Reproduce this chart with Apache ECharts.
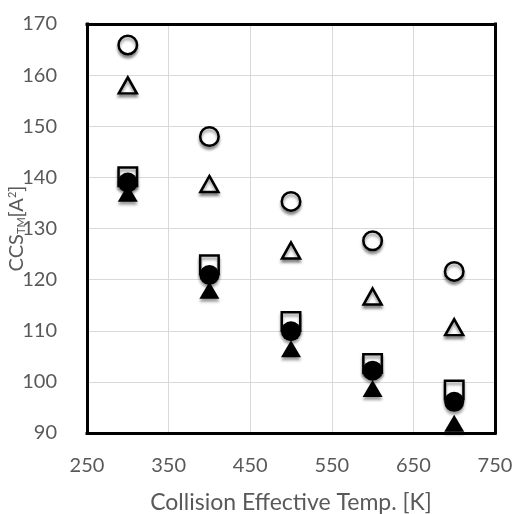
<!DOCTYPE html>
<html><head><meta charset="utf-8">
<script src="https://cdn.jsdelivr.net/npm/echarts@6/dist/echarts.min.js"></script>
<style>html,body{margin:0;padding:0;background:#fff}#c{width:517px;height:514px}</style>
</head><body><div id="c"></div>
<script>
const temps = [300, 400, 500, 600, 700];
const openCircle = [165.9, 148.0, 135.3, 127.6, 121.6];
const openTriangle = [158.0, 138.7, 125.7, 116.7, 110.7];
const openSquare = [140.1, 122.9, 111.8, 103.6, 98.4];
const filledCircle = [139.0, 120.9, 109.9, 102.2, 96.1];
const filledTriangle = [136.9, 117.9, 106.5, 98.7, 91.9];
const xTicks = [250, 350, 450, 550, 650, 750];
const yTicks = [90, 100, 110, 120, 130, 140, 150, 160, 170];

const pts = arr => temps.map((t, i) => [t, arr[i]]);
const shadow = {shadowBlur: 3, shadowColor: 'rgba(0,0,0,0.4)', shadowOffsetY: 3};
const FONT = 'Lato';
const GREY = '#595959';
function mk(name, data, symbol, size, filled) {
  return {
    name, type: 'scatter', data: pts(data), symbol, symbolSize: size,
    xAxisIndex: 0, yAxisIndex: 0,
    itemStyle: Object.assign({
      color: filled ? '#000' : '#fff', opacity: 1,
      borderColor: '#000', borderWidth: filled ? 0 : 2.5
    }, shadow)
  };
}
const frameLine = {show: true, onZero: false, lineStyle: {color: '#000', width: 3, cap: 'square'}};
const chart = echarts.init(document.getElementById('c'), null, {renderer: 'canvas'});
chart.setOption({
  animation: false,
  textStyle: {fontFamily: FONT},
  grid: {left: 87, right: 22, top: 24, bottom: 81, containLabel: false, outerBoundsMode: 'none'},
  xAxis: [{
    type: 'value', min: xTicks[0], max: xTicks[xTicks.length - 1], interval: 100,
    axisLine: frameLine, axisTick: {show: false},
    axisLabel: {color: GREY, fontSize: 20, margin: 23, fontFamily: FONT},
    splitLine: {show: true, lineStyle: {color: '#d9d9d9', width: 1}},
    name: 'Collision Effective Temp. [K]', nameLocation: 'middle', nameGap: 58, nameMoveOverlap: false,
    nameTextStyle: {color: GREY, fontSize: 23, fontFamily: FONT}
  }, {
    type: 'value', position: 'top', min: xTicks[0], max: xTicks[xTicks.length - 1], interval: 100,
    axisLine: frameLine, axisTick: {show: false}, axisLabel: {show: false}, splitLine: {show: false}
  }],
  yAxis: [{
    type: 'value', min: yTicks[0], max: yTicks[yTicks.length - 1], interval: 10,
    axisLine: frameLine, axisTick: {show: false},
    axisLabel: {color: GREY, fontSize: 20, margin: 30, fontFamily: FONT},
    splitLine: {show: true, lineStyle: {color: '#d9d9d9', width: 1}},
    name: 'CCS{sub|TM}[A{sup|2}]', nameLocation: 'middle', nameGap: 60, nameMoveOverlap: false,
    nameTextStyle: {color: GREY, fontSize: 20, fontFamily: FONT,
      rich: {sub: {fontSize: 11, color: GREY, verticalAlign: 'bottom', padding: [9, 0, 0, 0], fontFamily: FONT},
             sup: {fontSize: 11, color: GREY, verticalAlign: 'top', padding: [0, 0, 9, 0], fontFamily: FONT}}}
  }, {
    type: 'value', position: 'right', min: yTicks[0], max: yTicks[yTicks.length - 1], interval: 10,
    axisLine: frameLine, axisTick: {show: false}, axisLabel: {show: false}, splitLine: {show: false}
  }],
  series: [
    mk('openCircle', openCircle, 'circle', 18.5, false),
    mk('openTriangle', openTriangle, 'triangle', [18, 16], false),
    mk('openSquare', openSquare, 'rect', 18.5, false),
    mk('filledTriangle', filledTriangle, 'triangle', [20, 17], true),
    mk('filledCircle', filledCircle, 'circle', 20, true)
  ]
});
</script></body></html>
